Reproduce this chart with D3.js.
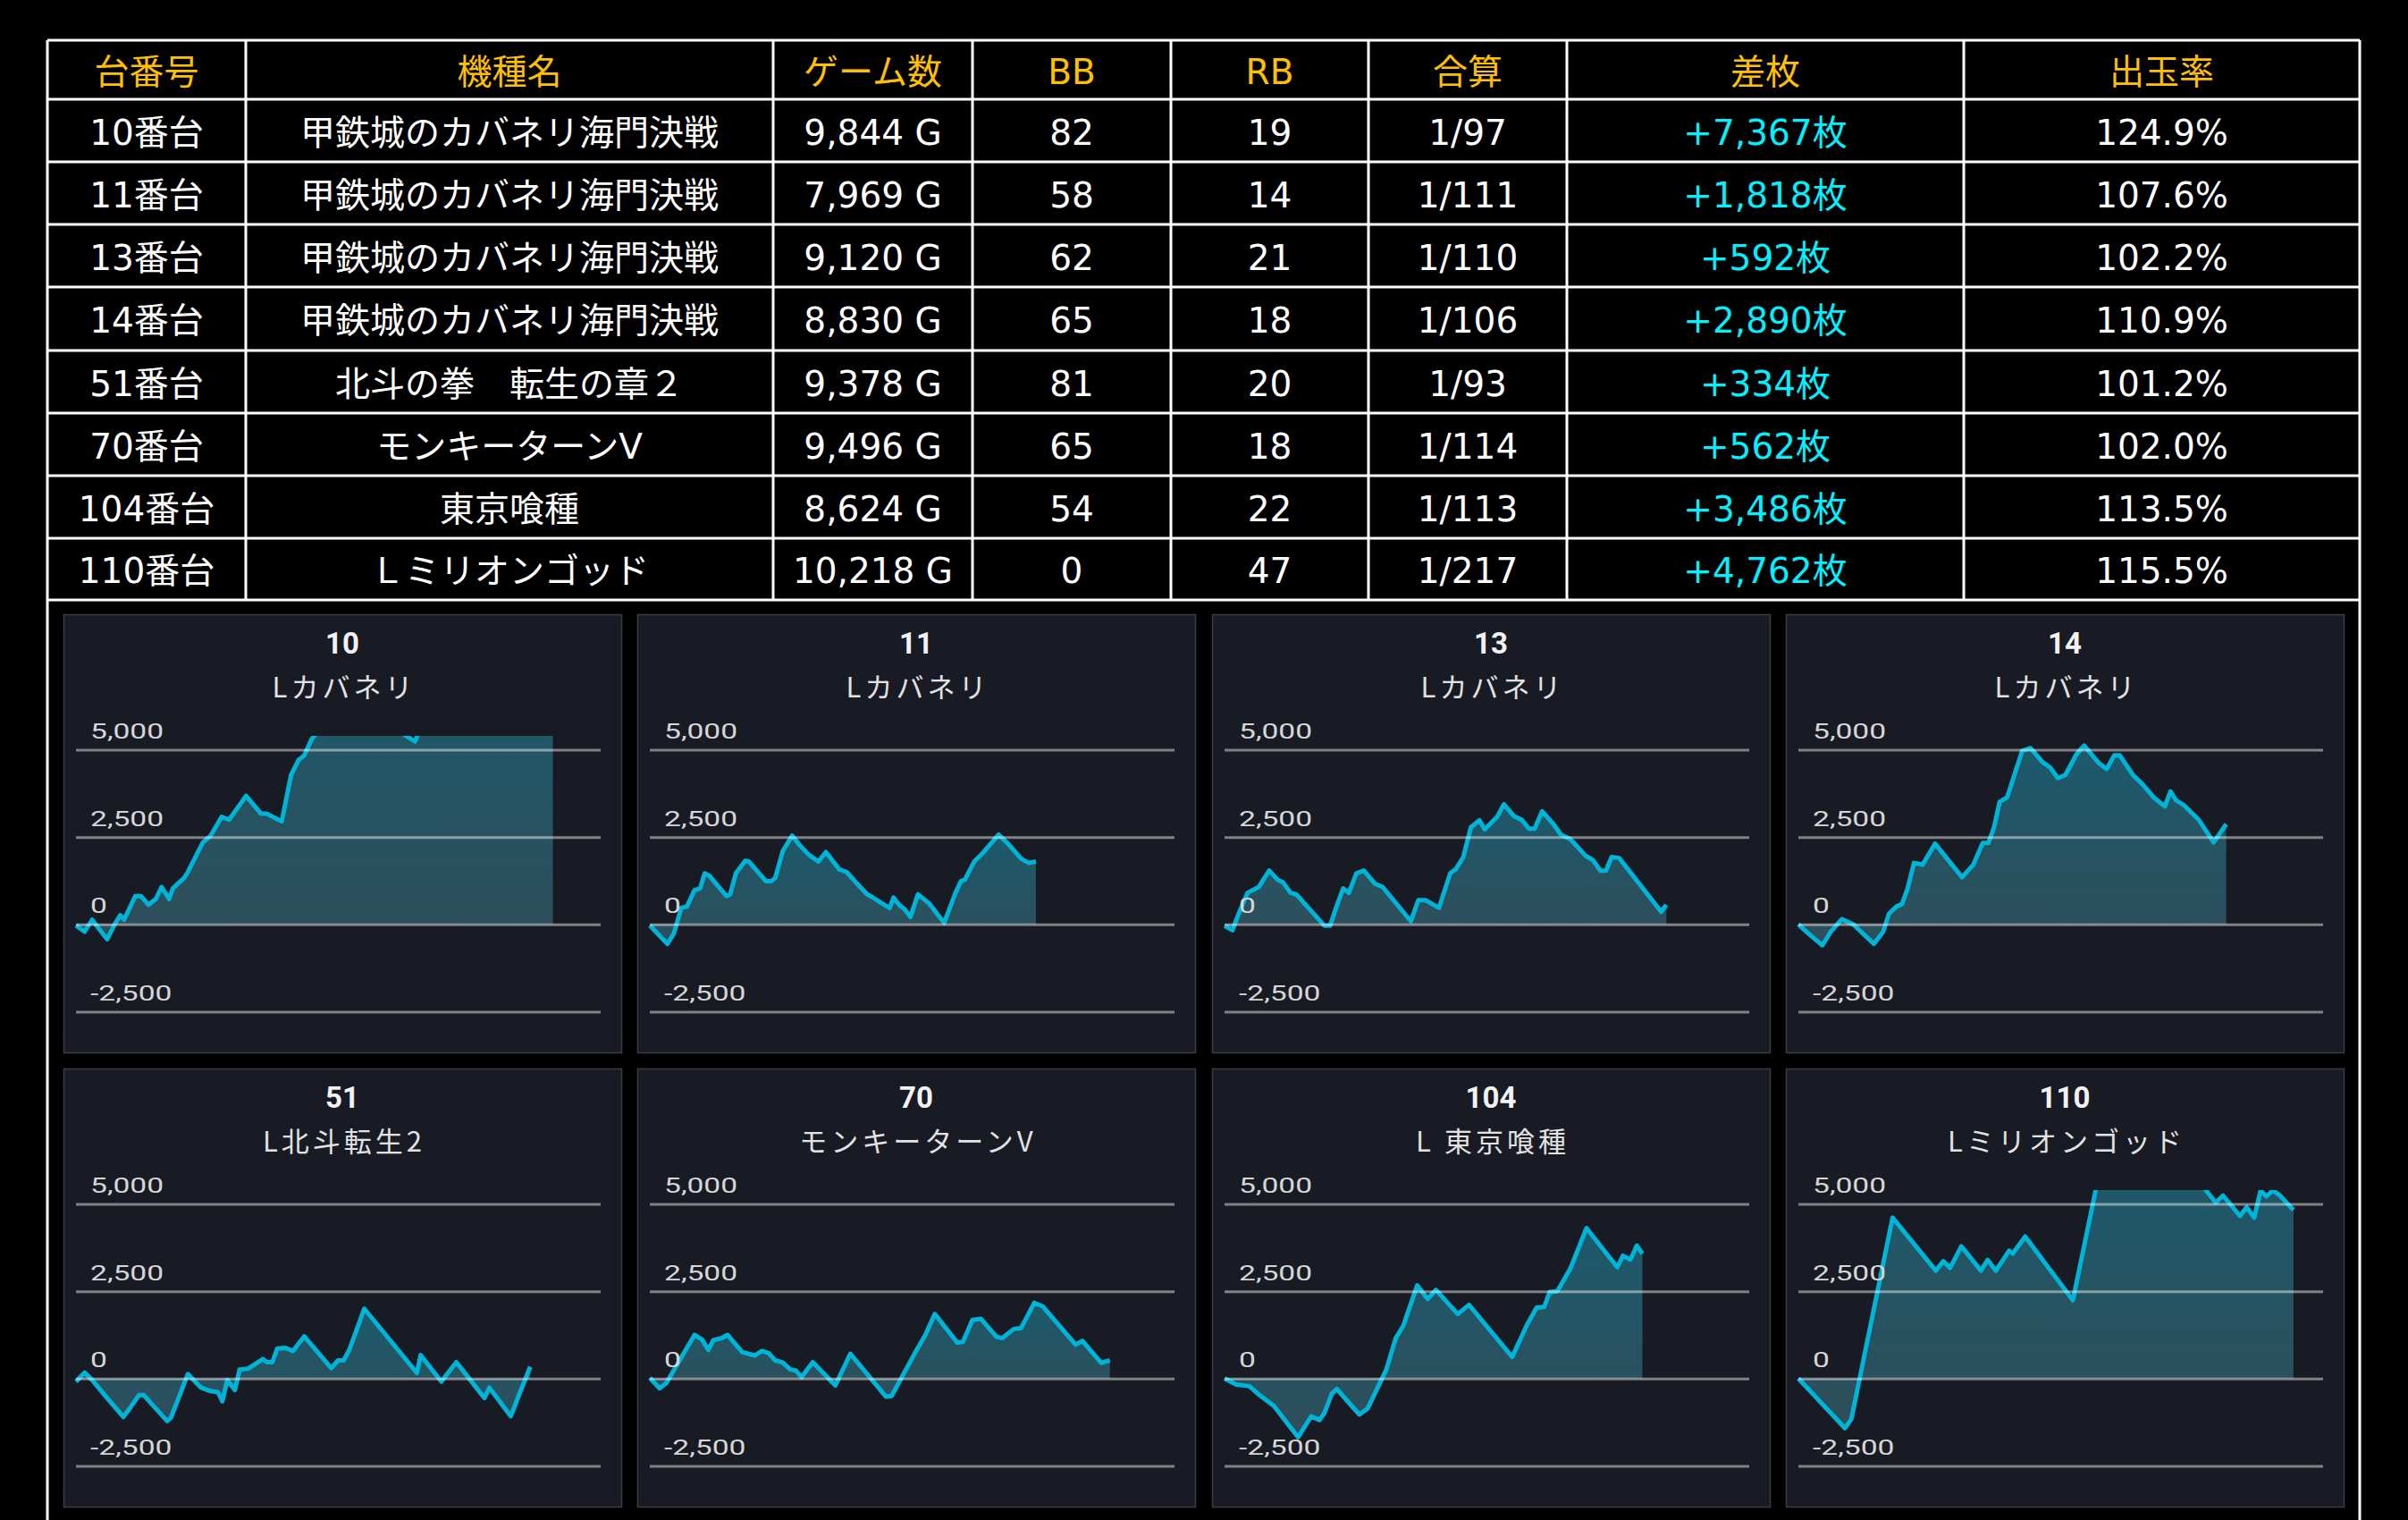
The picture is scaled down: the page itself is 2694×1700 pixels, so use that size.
<!DOCTYPE html>
<html>
<head>
<meta charset="utf-8">
<script src="https://cdn.jsdelivr.net/npm/d3@7/dist/d3.min.js"></script>
<style>
  html, body { margin: 0; padding: 0; background: #000; }
  svg { display: block; }
</style>
</head>
<body>
<svg id="chart" width="2694" height="1700"></svg>
<script>
/* ---------- table data ---------- */
const tableHeader = ["台番号", "機種名", "ゲーム数", "BB", "RB", "合算", "差枚", "出玉率"];
const unitNos = ["10番台", "11番台", "13番台", "14番台", "51番台", "70番台", "104番台", "110番台"];
const modelNames = ["甲鉄城のカバネリ海門決戦", "甲鉄城のカバネリ海門決戦", "甲鉄城のカバネリ海門決戦", "甲鉄城のカバネリ海門決戦",
  "北斗の拳　転生の章２", "モンキーターンⅤ", "東京喰種", "Ｌミリオンゴッド"];
const gameCounts = ["9,844 G", "7,969 G", "9,120 G", "8,830 G", "9,378 G", "9,496 G", "8,624 G", "10,218 G"];
const bbCounts = ["82", "58", "62", "65", "81", "65", "54", "0"];
const rbCounts = ["19", "14", "21", "18", "20", "18", "22", "47"];
const totalProb = ["1/97", "1/111", "1/110", "1/106", "1/93", "1/114", "1/113", "1/217"];
const coinDiffs = ["+7,367枚", "+1,818枚", "+592枚", "+2,890枚", "+334枚", "+562枚", "+3,486枚", "+4,762枚"];
const payoutRates = ["124.9%", "107.6%", "102.2%", "110.9%", "101.2%", "102.0%", "113.5%", "115.5%"];

/* ---------- small chart data ---------- */
const chartNos = ["10", "11", "13", "14", "51", "70", "104", "110"];
const chartNames = ["Lカバネリ", "Lカバネリ", "Lカバネリ", "Lカバネリ", "L北斗転生2", "モンキーターンV", "L 東京喰種", "Lミリオンゴッド"];
const yTicks = [5000, 2500, 0, -2500];

const games10 = [0,178,333,643,798,915,992,1225,1341,1496,1651,1767,1922,2000,2232,2310,2620,2775,3007,3162,3511,3821,3937,4247,4441,4596,4712,4867,5100,5500,6000,6400,6700,6998,7200,7800,8500,9200,9844];
const coins10 = [-30,-210,130,-430,0,260,130,810,810,560,730,1070,730,1030,1330,1500,2350,2530,3080,3000,3680,3170,3170,2950,4280,4710,4840,5310,5700,6300,6600,6000,5500,5240,5900,6600,6900,7600,7367];

const games11 = [0,364,496,651,767,922,1039,1132,1232,1581,1659,1775,1969,2046,2395,2511,2589,2744,2938,3093,3286,3480,3635,3906,4061,4255,4487,4604,4836,4953,5030,5146,5263,5379,5534,5766,6076,6309,6425,6502,6696,6851,7200,7394,7665,7820,7969];
const coins11 = [-30,-560,-260,470,510,980,1030,1460,1390,810,860,1460,1820,1800,1240,1240,1330,2100,2540,2270,1990,1800,2070,1580,1500,1200,860,770,560,470,770,560,430,210,860,600,40,900,1240,1280,1800,2010,2570,2310,1880,1760,1800];

const games13 = [0,163,279,473,705,922,1093,1209,1364,1480,1868,2062,2178,2333,2449,2565,2720,2875,3108,3263,3844,3999,4154,4425,4658,4774,4929,5084,5262,5371,5627,5766,5975,6130,6285,6401,6556,6789,6944,7138,7448,7603,7758,7874,7990,8145,9013,9120];
const coins13 = [-40,-170,260,900,1070,1540,1280,1200,900,860,260,-40,-40,600,1030,900,1460,1540,1160,1070,90,690,690,470,1460,1580,1930,2780,2980,2720,3080,3440,3100,3000,2740,2740,3240,2870,2570,2440,1970,1840,1540,1540,1930,1900,360,560];

const games14 = [0,202,496,667,899,1131,1558,1751,1868,2023,2139,2255,2387,2565,2821,3379,3611,3805,3921,4038,4154,4309,4619,4789,5045,5200,5355,5510,5743,5898,6208,6363,6518,6634,6905,7099,7332,7564,7680,7797,7952,8261,8571,8830];
const coins14 = [0,-260,-600,-210,150,0,-560,-210,300,510,580,1030,1760,1710,2310,1350,1710,2330,2330,2780,3510,3640,4970,5050,4640,4490,4190,4280,4880,5120,4610,4450,4840,4840,4280,4020,3640,3380,3810,3550,3420,3000,2350,2870];

const games51 = [0,178,333,643,977,1108,1302,1395,1883,1961,2310,2581,2775,2930,3022,3123,3279,3379,3550,3860,3937,4054,4154,4325,4480,4712,5270,5409,5525,5642,5952,7037,7115,7541,7851,8432,8533,8975,9168,9378];
const coins51 = [-90,170,-40,-560,-1100,-860,-470,-470,-1220,-1120,130,-260,-360,-390,-650,-40,-330,260,280,560,470,470,860,880,790,1210,300,520,520,820,2000,160,670,-90,470,-560,-260,-1080,-390,340];

const games70 = [0,202,341,922,1077,1209,1310,1488,1604,1906,2162,2317,2449,2589,2744,2899,3015,3131,3364,3829,4139,4875,4991,5456,5688,5882,6347,6464,6658,6836,7161,7278,7510,7665,7936,8107,8789,8928,9316,9496];
const coins70 = [20,-280,-130,1250,1120,820,1100,1160,1250,760,660,790,730,520,460,260,230,40,470,-200,710,-520,-500,690,1250,1850,1030,1050,1680,1710,1190,1160,1420,1450,2170,2070,970,1080,450,520];

const games104 = [0,240,357,512,744,1015,1519,1790,1960,2061,2216,2317,2782,2953,3340,3534,3689,3976,4193,4363,4813,5045,5937,6247,6441,6596,6712,6867,7138,7471,8107,8223,8378,8510,8624];
const coins104 = [0,-170,-190,-220,-500,-780,-1680,-1080,-1190,-990,-430,-300,-1030,-860,260,1160,1510,2670,2280,2540,1850,2110,620,1550,2030,2050,2480,2500,3150,4310,3190,3520,3410,3810,3580];

const games110 = [0,961,1093,1945,2836,2991,3131,3364,3767,3906,4077,4348,4426,4681,5666,6154,6600,7200,7800,8300,8611,8766,9115,9254,9409,9541,9657,9796,9928,10218];
const coins110 = [0,-1420,-1160,4610,3090,3360,3170,3790,3090,3400,3090,3660,3580,4070,2240,5520,6300,6700,6400,5600,5040,5240,4660,4910,4610,5390,5220,5390,5260,4830];

const seriesGames = [games10, games11, games13, games14, games51, games70, games104, games110];
const seriesCoins = [coins10, coins11, coins13, coins14, coins51, coins70, coins104, coins110];

/* ---------- layout ---------- */
const svg = d3.select("#chart");
const colEdges = [53, 275, 865, 1088, 1310, 1531, 1753, 2197, 2640];
const rowEdges = [45, 111, 181, 251, 321, 392, 462, 532, 602, 671];
const tableFont = "'DejaVu Sans', 'Noto Sans CJK JP', sans-serif";

// table rows: header + 8 data rows
const tableRows = [tableHeader].concat(unitNos.map((u, i) => [
  u, modelNames[i], gameCounts[i], bbCounts[i], rbCounts[i], totalProb[i], coinDiffs[i], payoutRates[i]
]));

const table = svg.append("g");
tableRows.forEach((row, r) => {
  const yMid = (rowEdges[r] + rowEdges[r + 1]) / 2;
  table.selectAll(null)
    .data(row)
    .enter()
    .append("text")
    .attr("x", (d, c) => (colEdges[c] + colEdges[c + 1]) / 2)
    .attr("y", yMid + 2)
    .attr("text-anchor", "middle")
    .attr("dominant-baseline", "central")
    .attr("font-family", tableFont)
    .attr("font-size", 39)
    .attr("fill", (d, c) => r === 0 ? "#ffc000" : (c === 6 ? "#00f2ff" : "#ffffff"))
    .text(d => d);
});

// grid lines of the table
table.selectAll(".hline")
  .data(rowEdges)
  .enter()
  .append("line")
  .attr("x1", colEdges[0]).attr("x2", colEdges[colEdges.length - 1])
  .attr("y1", d => d).attr("y2", d => d)
  .attr("stroke", "#fff").attr("stroke-width", 3);

table.selectAll(".vline")
  .data(colEdges)
  .enter()
  .append("line")
  .attr("x1", d => d).attr("x2", d => d)
  .attr("y1", rowEdges[0])
  .attr("y2", (d, i) => (i === 0 || i === colEdges.length - 1) ? 1700 : rowEdges[rowEdges.length - 1])
  .attr("stroke", "#fff").attr("stroke-width", 3);

/* ---------- small area charts ---------- */
const panelW = 624, panelH = 490;
const panelX = [71, 713, 1356, 1998];
const panelY = [687, 1195];

const x = d3.scaleLinear().domain([0, 10830]).range([14, 601]);
const y = d3.scaleLinear().domain([-2900, 5400]).range([460, 136]);
const fmt = d3.format(",");

const defs = svg.append("defs");
const grad = defs.append("linearGradient")
  .attr("id", "areaGrad")
  .attr("x1", 0).attr("y1", 0).attr("x2", 0).attr("y2", 1);
grad.append("stop").attr("offset", "0%").attr("stop-color", "#1b5a6c");
grad.append("stop").attr("offset", "100%").attr("stop-color", "#2f4e5a");

defs.append("clipPath").attr("id", "plotClip")
  .append("rect")
  .attr("x", 0).attr("y", y(5400))
  .attr("width", panelW).attr("height", y(-2900) - y(5400));

chartNos.forEach((no, i) => {
  const pts = seriesGames[i].map((g, k) => ({ g: g, v: seriesCoins[i][k] }));
  const px = panelX[i % 4], py = panelY[Math.floor(i / 4)];
  const panel = svg.append("g").attr("transform", `translate(${px},${py})`);

  panel.append("rect")
    .attr("x", 0.5).attr("y", 0.5)
    .attr("width", panelW).attr("height", panelH)
    .attr("fill", "#181b24")
    .attr("stroke", "#3a3d45").attr("stroke-width", 1.5);

  panel.append("text")
    .attr("x", panelW / 2).attr("y", 44)
    .attr("text-anchor", "middle")
    .attr("font-family", "Roboto, sans-serif")
    .attr("font-weight", 700)
    .attr("font-size", 33)
    .attr("fill", "#f2f2f2")
    .text(no);

  panel.append("text")
    .attr("x", panelW / 2 + 2).attr("y", 79)
    .attr("text-anchor", "middle")
    .attr("dominant-baseline", "central")
    .attr("font-family", "'Noto Sans CJK JP', sans-serif")
    .attr("font-size", 31)
    .attr("letter-spacing", 4)
    .attr("fill", "#e2e2e2")
    .text(chartNames[i]);

  const plot = panel.append("g").attr("clip-path", "url(#plotClip)");

  const area = d3.area()
    .x(d => x(d.g))
    .y0(y(0))
    .y1(d => y(d.v));

  plot.append("path")
    .datum(pts)
    .attr("d", area)
    .attr("fill", "url(#areaGrad)");

  // grid lines + labels
  const axis = d3.axisRight(y)
    .tickValues(yTicks)
    .tickSize(x.range()[1] - x.range()[0])
    .tickFormat(d => fmt(d).replace("−", "-"));

  const ax = panel.append("g")
    .attr("transform", `translate(${x.range()[0]},0)`)
    .call(axis);
  ax.select(".domain").remove();
  ax.selectAll(".tick line")
    .attr("stroke", "rgba(255,255,255,0.45)")
    .attr("stroke-width", 3);
  ax.selectAll(".tick text")
    .attr("x", null).attr("dy", null)
    .attr("text-anchor", "start")
    .attr("transform", "translate(16,-13) scale(1.4,1)")
    .attr("font-family", "Roboto, sans-serif")
    .attr("font-size", 24)
    .attr("fill", "#d6d6d6");

  const line = d3.line()
    .x(d => x(d.g))
    .y(d => y(d.v));

  plot.append("path")
    .datum(pts)
    .attr("d", line)
    .attr("fill", "none")
    .attr("stroke", "#00b4d8")
    .attr("stroke-width", 5)
    .attr("stroke-linejoin", "round");
});
</script>
</body>
</html>
